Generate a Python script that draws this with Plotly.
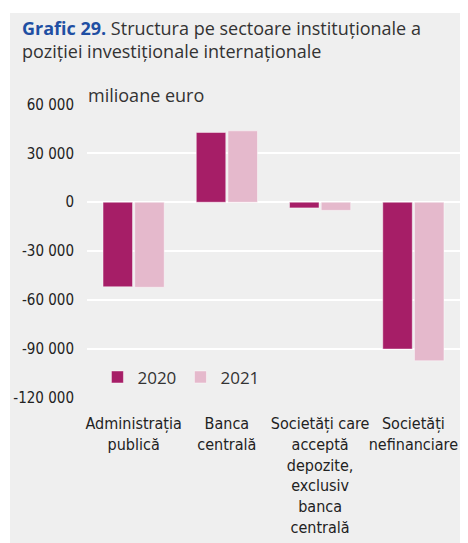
import plotly.graph_objects as go

categories = [
    "Administrația<br>publică",
    "Banca<br>centrală",
    "Societăți care<br>acceptă<br>depozite,<br>exclusiv<br>banca<br>centrală",
    "Societăți<br>nefinanciare",
]
values_2020 = [-52000, 42900, -3500, -90300]
values_2021 = [-52300, 43900, -5000, -97500]
tick_vals = [60000, 30000, 0, -30000, -60000, -90000, -120000]
tick_text = ["60 000", "30 000", "0", "-30 000", "-60 000", "-90 000", "-120 000"]

# page has an 8px body margin: figure coords = page coords - 8
OFF = 8
W, H = 468, 543
L, T = 87 - OFF, 104 - OFF
R = W - (460 - OFF)
B = H - (398 - OFF)
pw, ph = W - L - R, H - T - B

cond = "Liberation Sans Narrow, DejaVu Sans Condensed, Roboto Condensed, Arial Narrow, sans-serif"
main = "Open Sans, Noto Sans, sans-serif"

fig = go.Figure()
fig.add_trace(go.Bar(name="2020", x=categories, y=values_2020,
                     marker=dict(color="#A61E67", line=dict(color="rgba(255,255,255,0.45)", width=1))))
fig.add_trace(go.Bar(name="2021", x=categories, y=values_2021,
                     marker=dict(color="#E5B9CC", line=dict(color="rgba(255,255,255,0.45)", width=1))))

def px_x(x):
    return (x - OFF - L) / pw

def px_y(y):
    return (H - B - (y - OFF)) / ph

# white strips outside the grey panel (top and left)
fig.add_shape(type="rect", xref="paper", yref="paper",
              x0=px_x(0), x1=px_x(480), y0=px_y(13), y1=px_y(0),
              fillcolor="#FFFFFF", line=dict(width=0), layer="below")
fig.add_shape(type="rect", xref="paper", yref="paper",
              x0=px_x(0), x1=px_x(10), y0=px_y(560), y1=px_y(0),
              fillcolor="#FFFFFF", line=dict(width=0), layer="below")

fig.add_annotation(xref="paper", yref="paper", x=px_x(20), y=px_y(14),
                   xanchor="left", yanchor="top", align="left", showarrow=False,
                   text="<b><span style='color:#1F4FA3'>Grafic 29.</span></b> Structura pe sectoare instituționale a<br>poziției investiționale internaționale",
                   font=dict(family=main, size=18, color="#333333"))
fig.add_annotation(xref="paper", yref="paper", x=px_x(86), y=px_y(95),
                   xanchor="left", yanchor="middle", showarrow=False,
                   text="milioane euro", font=dict(family=main, size=18, color="#333333"))

fig.update_layout(
    width=W, height=H,
    margin=dict(l=L, r=R, t=T, b=B, autoexpand=False),
    paper_bgcolor="#EFEFEF", plot_bgcolor="#EFEFEF",
    barmode="group", bargap=0.32, bargroupgap=0.07,
    showlegend=True,
    legend=dict(orientation="h", x=0.028, y=0.07, xanchor="left", yanchor="middle",
                bgcolor="rgba(0,0,0,0)", font=dict(family=main, size=17, color="#333333"),
                itemwidth=30, entrywidth=38, entrywidthmode="pixels", traceorder="normal"),
    font=dict(family=cond, color="#222222"),
)
fig.update_yaxes(range=[-120400, 60400], tickvals=tick_vals, ticktext=tick_text,
                 showgrid=True, gridcolor="#FFFFFF", gridwidth=2, zeroline=False,
                 showline=False, ticks="", ticklabelstandoff=12, automargin=False,
                 tickfont=dict(family=cond, size=15, color="#222222"))
fig.update_xaxes(showgrid=False, showline=False, ticks="", ticklabelstandoff=14,
                 tickangle=0, automargin=False,
                 tickfont=dict(family=cond, size=16, color="#222222"))

fig.write_html("out.html")
